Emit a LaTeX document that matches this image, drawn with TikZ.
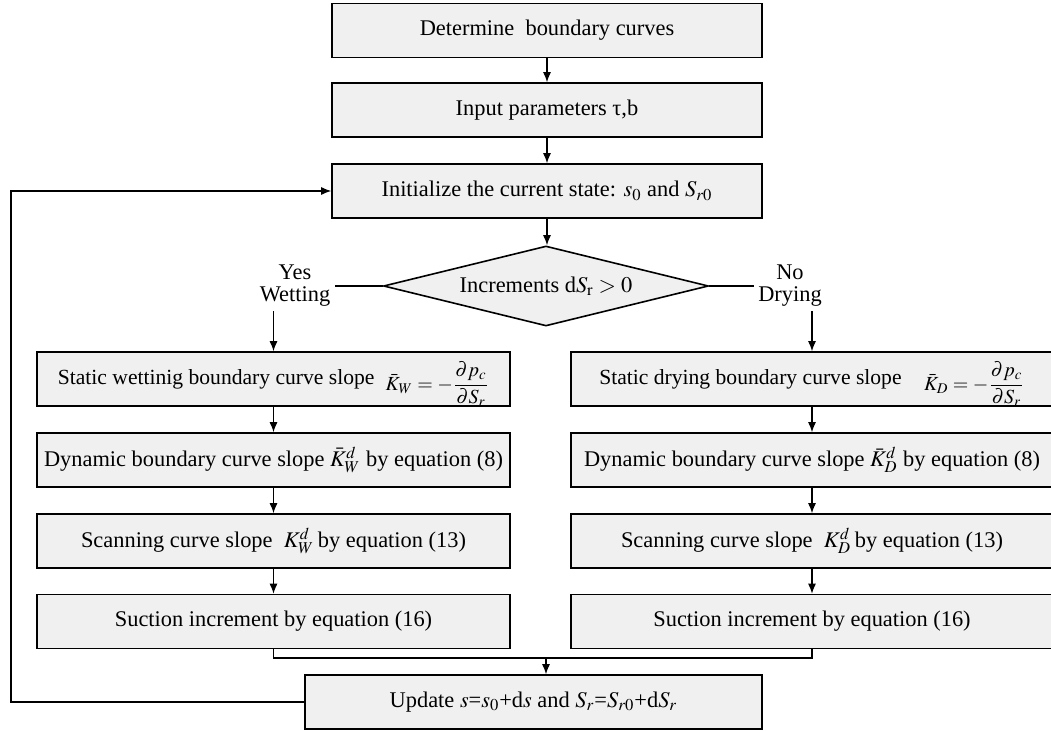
\documentclass[tikz,border=0pt]{standalone}
\usepackage{mathptmx}
\usepackage[no-math]{fontspec}
\setmainfont{Liberation Serif}
\usetikzlibrary{shapes.geometric, arrows.meta}

\definecolor{boxfill}{RGB}{240,240,240}

\newcommand{\slopetext}{\fontsize{10.8pt}{13pt}\selectfont}
\newcommand{\slopemath}{\fontsize{10pt}{12pt}\selectfont}

\tikzset{
  flowbox/.style = {draw, line width = 0.8pt, fill = boxfill,
    minimum height = 27pt, inner sep = 2pt},
  topbox/.style = {flowbox, minimum width = 215pt},
  sidebox/.style = {flowbox, minimum width = 236.5pt},
  dryingbox/.style = {flowbox, minimum width = 241pt},
  decision/.style = {diamond, draw, line width = 0.8pt, fill = boxfill,
    aspect = 4, minimum width = 162.5pt, minimum height = 40pt,
    inner sep = 0pt},
  arrow/.style = {-{Latex[length = 5pt, width = 4pt]}, line width = 0.6pt}
}

\begin{document}
\begin{tikzpicture}[x = 0.5pt, y = -0.5pt,
  font = \fontsize{11.2pt}{13pt}\selectfont]
  \useasboundingbox (0, 0) rectangle (1051, 731);

  \node[topbox] (bounds) at (547, 30.5) {Determine\ \ boundary curves};
  \node[topbox] (params) at (547, 110) {Input parameters τ,b};
  \node[topbox] (init) at (547, 191)
  {Initialize the current state: $s_0$ and $S_{r0}$};
  \node[decision] (incr) at (546, 286) {Increments d$S_\mathrm{r} > 0$};

  \node[align = center, inner sep = 2pt] (yes) at (295, 286)
  {Yes\\[-2pt]Wetting};
  \node[align = center, inner sep = 2pt] (no) at (790, 286)
  {No\\[-2pt]Drying};

  \node[sidebox] (wet1) at (273.5, 379) {{\slopetext Static wettinig boundary
    curve slope}\enspace\smash{\raisebox{-3pt}{\slopemath$\bar{K}_W =
    -{\displaystyle\frac{\partial p_c}{\partial S_r}}$}}};
  \node[sidebox] (wet2) at (273.5, 460)
  {Dynamic boundary curve slope $\bar{K}^d_W$\ by equation (8)};
  \node[sidebox] (wet3) at (273.5, 541)
  {Scanning curve slope\ \ $K^d_W$\,by equation (13)};
  \node[sidebox] (wet4) at (273.5, 621.5) {Suction increment by equation (16)};

  \node[dryingbox] (dry1) at (812, 379) {{\slopetext Static drying boundary
    curve slope}\quad\smash{\raisebox{-3pt}{\slopemath$\bar{K}_D =
    -{\displaystyle\frac{\partial p_c}{\partial S_r}}$}}\hspace{16pt}};
  \node[dryingbox] (dry2) at (812, 460)
  {Dynamic boundary curve slope $\bar{K}^d_D$\ by equation (8)};
  \node[dryingbox] (dry3) at (812, 541)
  {Scanning curve slope\ \ $K^d_D$\,by equation (13)};
  \node[dryingbox] (dry4) at (812, 621.5) {Suction increment by equation (16)};

  \node[flowbox, minimum width = 228.5pt] (update) at (533.5, 702)
  {Update $s$=$s_0$+d$s$ and $S_r$=$S_{r0}$+d$S_r$};

  \coordinate (merge) at (546, 658);
  \coordinate (loop) at (11, 0);

  \draw[arrow] (bounds) -- (params);
  \draw[arrow] (params) -- (init);
  \draw[arrow] (init) -- (init |- incr.north);

  \draw[line width = 0.6pt] (incr.west) -- (yes.east);
  \draw[line width = 0.6pt] (incr.east) -- (no.west);
  \draw[arrow] (yes.south -| wet1.north) -- (wet1.north);
  \draw[arrow] (no.south -| dry1.north) -- (dry1.north);

  \draw[arrow] (wet1) -- (wet2);
  \draw[arrow] (wet2) -- (wet3);
  \draw[arrow] (wet3) -- (wet4);
  \draw[arrow] (dry1) -- (dry2);
  \draw[arrow] (dry2) -- (dry3);
  \draw[arrow] (dry3) -- (dry4);

  \draw[line width = 0.6pt] (wet4.south) |- (merge) -| (dry4.south);
  \draw[arrow] (merge) -- (merge |- update.north);
  \draw[arrow] (update.west) -- (update.west -| loop) |- (init.west);
\end{tikzpicture}
\end{document}
